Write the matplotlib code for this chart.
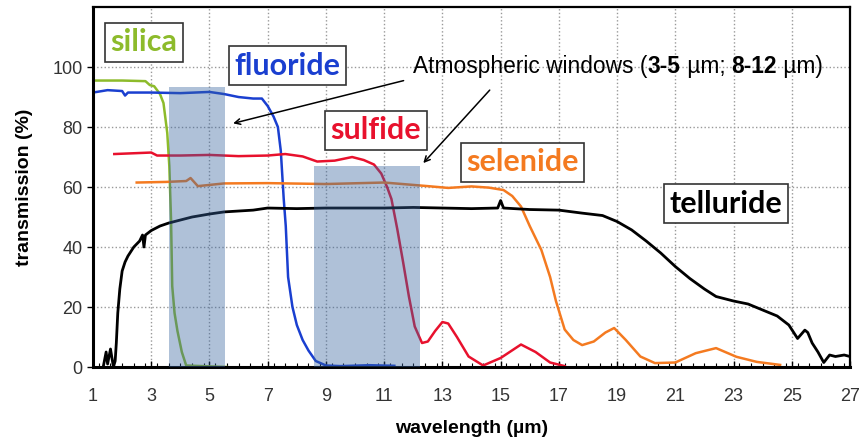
import numpy as np
import matplotlib
matplotlib.use('Agg')
import matplotlib.pyplot as plt
from matplotlib.ticker import MultipleLocator

plt.rcParams['font.family'] = ['Liberation Sans', 'DejaVu Sans']

# transmission curves (wavelength um, transmission %)
silica_x = [1.0, 2.0, 2.8, 2.95, 3.1, 3.3, 3.42, 3.55, 3.62, 3.68, 3.72, 3.8, 3.9, 4.05, 4.2, 5.6]
silica_y = [95.5, 95.5, 95.3, 94.0, 93.6, 91.0, 88.0, 78.0, 67.0, 49.0, 27.0, 18.0, 12.0, 5.0, 0.5, 0.0]

fluoride_x = [1.0, 1.5, 2.0, 2.1, 2.2, 3.0, 4.0, 5.0, 5.5, 6.0, 6.5, 6.8, 7.0, 7.2, 7.35, 7.45,
              7.55, 7.62, 7.7, 7.85, 8.0, 8.2, 8.4, 8.65, 9.0, 9.5, 10.5, 11.35]
fluoride_y = [91.5, 92.3, 92.0, 90.5, 91.5, 91.5, 91.3, 91.7, 91.0, 90.0, 89.5, 89.5, 87.0, 83.5, 80.0, 72.0,
              56.0, 47.0, 30.0, 20.0, 14.0, 9.0, 5.5, 2.0, 0.5, 0.3, 0.6, 0.4]

sulfide_x = [1.73, 2.5, 3.0, 3.2, 4.0, 5.0, 6.0, 7.0, 7.6, 8.2, 8.7, 9.3, 9.9, 10.3, 10.65, 10.9,
             11.1, 11.25, 11.45, 11.65, 11.85, 12.05, 12.3, 12.5, 12.75, 13.0, 13.2, 13.5, 13.9,
             14.4, 15.0, 15.7, 16.2, 16.7, 17.2]
sulfide_y = [71.0, 71.3, 71.5, 70.5, 70.5, 70.7, 70.3, 70.5, 71.0, 70.2, 68.5, 68.8, 70.0, 69.0, 67.5, 64.5,
             60.0, 56.0, 46.0, 35.0, 23.5, 13.5, 8.0, 8.5, 12.0, 15.0, 14.5, 10.0, 3.5,
             0.5, 3.0, 7.5, 5.0, 1.5, 0.3]

selenide_x = [2.5, 3.5, 4.2, 4.35, 4.6, 5.5, 7.0, 9.0, 11.0, 12.5, 13.2, 14.0, 14.6, 15.1, 15.4, 15.7,
              16.0, 16.4, 16.7, 16.9, 17.2, 17.5, 17.8, 18.2, 18.6, 18.9, 19.3, 19.8, 20.3, 21.0,
              21.7, 22.4, 23.1, 23.8, 24.6]
selenide_y = [61.5, 61.7, 62.0, 63.0, 60.3, 61.2, 61.3, 61.0, 61.5, 60.3, 59.7, 60.2, 59.8, 59.0, 57.0, 53.5,
              47.0, 39.0, 30.0, 22.0, 12.5, 9.0, 7.3, 8.5, 11.5, 13.0, 9.0, 3.5, 1.3, 1.5,
              4.6, 6.3, 3.4, 1.7, 0.7]

telluride_x = [1.35, 1.45, 1.5, 1.6, 1.7, 1.76, 1.8, 1.85, 1.92, 2.0, 2.1, 2.2, 2.4, 2.6, 2.7, 2.75,
               2.8, 3.0, 3.3, 3.6, 4.0, 4.4, 5.0, 5.5, 6.0, 6.5, 7.0, 8.0, 9.0, 10.0, 11.0, 12.0,
               13.0, 14.0, 14.9, 15.0, 15.1, 16.0, 17.0, 17.8, 18.5, 19.0, 19.5, 20.0, 20.5, 21.0,
               21.5, 22.0, 22.4, 23.0, 23.5, 24.0, 24.5, 24.9, 25.2, 25.45, 25.55, 25.7, 25.9, 26.1,
               26.3, 26.5, 26.8, 27.0]
telluride_y = [0, 5, 1, 6, 0, 2, 8, 18, 26, 32, 35, 37, 40, 42, 44, 40,
               44, 45.5, 47, 48, 49, 50, 51, 51.7, 52, 52.3, 53, 52.8, 53, 53, 53, 53.2,
               53, 52.8, 53, 55.5, 53, 52.5, 52.3, 51.3, 50.5, 48.5, 45.7, 42, 38, 33.5,
               29.5, 26, 23.5, 22, 21, 19, 17, 14, 9.5, 12.3, 11.5, 8, 5, 1.5,
               4, 3.5, 4, 3.5]

# atmospheric windows as drawn (x0, x1, top)
windows = [(3.62, 5.55, 93.3), (8.59, 12.24, 67.0)]

fig = plt.figure(figsize=(8.59, 4.41), dpi=100)
ax = fig.add_axes([0.1083, 0.1678, 0.8812, 0.8162])

ax.plot(silica_x, silica_y, color='#8dbb2b', lw=1.8)
ax.plot(fluoride_x, fluoride_y, color='#1a3fd0', lw=1.8)
ax.plot(sulfide_x, sulfide_y, color='#e8112d', lw=1.8)
ax.plot(selenide_x, selenide_y, color='#f47a20', lw=1.8)
ax.plot(telluride_x, telluride_y, color='black', lw=2.0)

for x0, x1, top in windows:
    ax.fill_between([x0, x1], 0, top, color='#37649f', alpha=0.4, lw=0, zorder=3)

ax.set_xlim(1, 27)
ax.set_ylim(0, 120)
ax.set_xticks(np.arange(1, 28, 2))
ax.set_yticks(np.arange(0, 101, 20))
ax.xaxis.set_minor_locator(MultipleLocator(0.4))
ax.tick_params(axis='x', which='major', direction='in', length=4, width=1, labelsize=13,
               labelcolor='#333333', pad=15)
ax.tick_params(axis='x', which='minor', direction='in', length=3, width=0.8)
ax.tick_params(axis='y', direction='out', length=4, width=1, labelsize=13, labelcolor='#333333')
ax.grid(True, which='major', color='#999999', linestyle=':', lw=1)

for side in ['left', 'bottom']:
    ax.spines[side].set_linewidth(2.2)
for side in ['top', 'right']:
    ax.spines[side].set_linewidth(1.6)

ax.set_xlabel('wavelength (µm)', fontsize=14, fontweight='bold', labelpad=11)
ax.set_ylabel('transmission (%)', fontsize=14, fontweight='bold', labelpad=14)

box = dict(boxstyle='square,pad=0.18', facecolor='white', edgecolor='#333333', lw=1.2)
labels = [('silica', 2.74, 108.2, '#8dbb2b'), ('fluoride', 7.67, 100.5, '#1a3fd0'),
          ('sulfide', 10.72, 79.0, '#e8112d'), ('selenide', 15.76, 68.2, '#f47a20'),
          ('telluride', 22.74, 54.5, 'black')]
for name, lx, ly, c in labels:
    ax.text(lx, ly, name, color=c, fontsize=22, fontweight='bold', family=['Lato', 'DejaVu Sans'],
            ha='center', va='center', bbox=box, zorder=5)

# annotation text with bold ranges
parts = [('Atmospheric windows (', 'normal'), ('3-5', 'bold'), (' µm; ', 'normal'),
         ('8-12', 'bold'), (' µm)', 'normal')]
t = ax.text(12.0, 98.0, parts[0][0], fontsize=16.4, va='baseline', ha='left', zorder=6)
for s, w in parts[1:]:
    t = ax.annotate(s, xy=(1, 0), xycoords=t, fontsize=16.4, fontweight=w, va='bottom', ha='left',
                    zorder=6)

arrow = dict(arrowstyle='->', color='black', lw=1.1)
ax.annotate('', xy=(5.72, 81.0), xytext=(11.76, 95.7), arrowprops=arrow, zorder=6)
ax.annotate('', xy=(12.28, 67.3), xytext=(14.69, 93.0), arrowprops=arrow, zorder=6)

fig.savefig('out.png', dpi=100)
